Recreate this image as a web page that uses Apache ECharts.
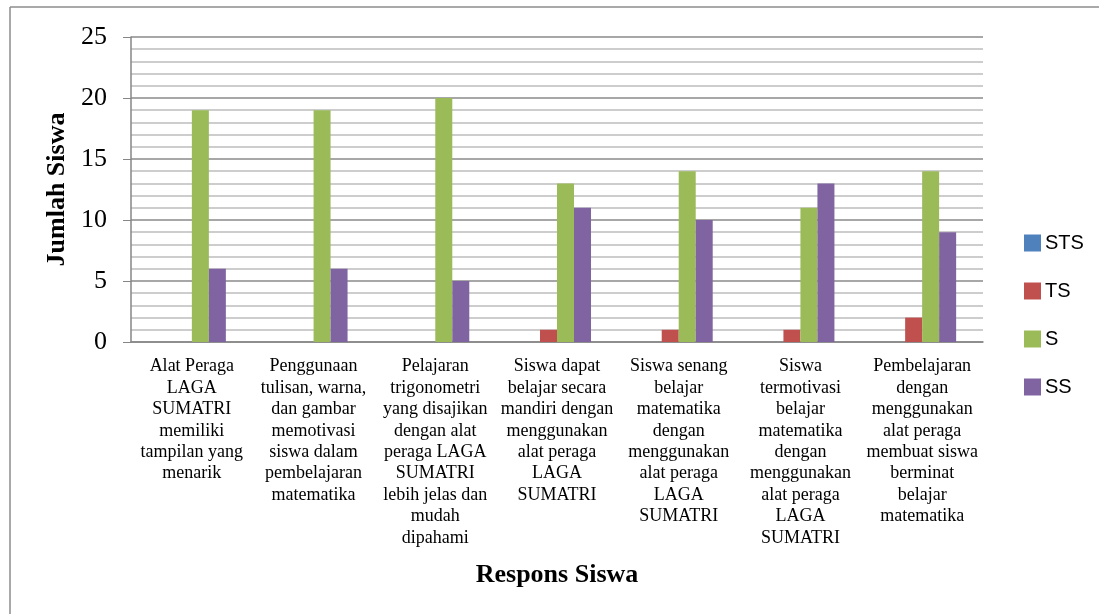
<!DOCTYPE html>
<html>
<head>
<meta charset="utf-8">
<script src="https://cdn.jsdelivr.net/npm/echarts@6/dist/echarts.min.js"></script>
<style>
html,body{margin:0;padding:0;background:#fff;}
#c{width:1099px;height:614px;}
</style>
</head>
<body>
<div id="c"></div>
<script>
var categories = [
  "Alat Peraga\nLAGA\nSUMATRI\nmemiliki\ntampilan yang\nmenarik",
  "Penggunaan\ntulisan, warna,\ndan gambar\nmemotivasi\nsiswa dalam\npembelajaran\nmatematika",
  "Pelajaran\ntrigonometri\nyang disajikan\ndengan alat\nperaga LAGA\nSUMATRI\nlebih jelas dan\nmudah\ndipahami",
  "Siswa dapat\nbelajar secara\nmandiri dengan\nmenggunakan\nalat peraga\nLAGA\nSUMATRI",
  "Siswa senang\nbelajar\nmatematika\ndengan\nmenggunakan\nalat peraga\nLAGA\nSUMATRI",
  "Siswa\ntermotivasi\nbelajar\nmatematika\ndengan\nmenggunakan\nalat peraga\nLAGA\nSUMATRI",
  "Pembelajaran\ndengan\nmenggunakan\nalat peraga\nmembuat siswa\nberminat\nbelajar\nmatematika"
];
var seriesNames = ["STS", "TS", "S", "SS"];
var valuesSTS = [0, 0, 0, 0, 0, 0, 0];
var valuesTS  = [0, 0, 0, 1, 1, 1, 2];
var valuesS   = [19, 19, 20, 13, 14, 11, 14];
var valuesSS  = [6, 6, 5, 11, 10, 13, 9];
var colors = ["#4F81BD", "#C0504D", "#9BBB59", "#8064A2"];

var chart = echarts.init(document.getElementById('c'));
var allValues = [valuesSTS, valuesTS, valuesS, valuesSS];
var series = allValues.map(function (v, i) {
  return {
    name: seriesNames[i],
    type: 'bar',
    data: v,
    barWidth: 17,
    barGap: '0%',
    itemStyle: { color: colors[i] }
  };
});

chart.setOption({
  animation: false,
  color: colors,
  graphic: [
    { type: 'line', shape: { x1: 10, y1: 7, x2: 1099, y2: 7 }, style: { stroke: '#8c8c8c', lineWidth: 1.5 } },
    { type: 'line', shape: { x1: 10, y1: 7, x2: 10, y2: 614 }, style: { stroke: '#8c8c8c', lineWidth: 1.5 } }
  ],
  grid: { left: 131, right: 116, top: 37, bottom: 272 },
  legend: {
    orient: 'vertical',
    left: 1019,
    top: 228,
    itemWidth: 17,
    itemHeight: 17,
    itemGap: 28,
    icon: 'rect',
    textStyle: { fontFamily: 'Liberation Sans', fontSize: 20, color: '#000', padding: [0, 0, 0, -1] },
    data: seriesNames
  },
  xAxis: {
    type: 'category',
    data: categories,
    name: 'Respons Siswa',
    nameLocation: 'middle',
    nameGap: 220,
    nameTextStyle: { fontFamily: 'Liberation Serif', fontWeight: 'bold', fontSize: 26, color: '#000' },
    axisLine: { lineStyle: { color: '#868686', width: 1.5 } },
    axisTick: { show: false },
    axisLabel: {
      interval: 0,
      fontFamily: 'Liberation Serif',
      fontSize: 18,
      lineHeight: 21.4,
      color: '#000',
      margin: 14,
      align: 'center',
      verticalAlign: 'top'
    }
  },
  yAxis: {
    type: 'value',
    min: 0,
    max: 25,
    interval: 5,
    name: 'Jumlah Siswa',
    nameLocation: 'middle',
    nameGap: 61,
    nameRotate: 90,
    nameTextStyle: { fontFamily: 'Liberation Serif', fontWeight: 'bold', fontSize: 26, color: '#000' },
    axisLine: { show: true, lineStyle: { color: '#868686', width: 1.5 } },
    axisTick: { show: true, length: 8, lineStyle: { color: '#868686' } },
    axisLabel: { fontFamily: 'Liberation Serif', fontSize: 26, color: '#000', margin: 24 },
    splitLine: { show: true, lineStyle: { color: '#8a8a8a', width: 1.5 } },
    minorTick: { show: false, splitNumber: 5 },
    minorSplitLine: { show: true, lineStyle: { color: '#bdbdbd', width: 1.5 } }
  },
  series: series
});
</script>
</body>
</html>
